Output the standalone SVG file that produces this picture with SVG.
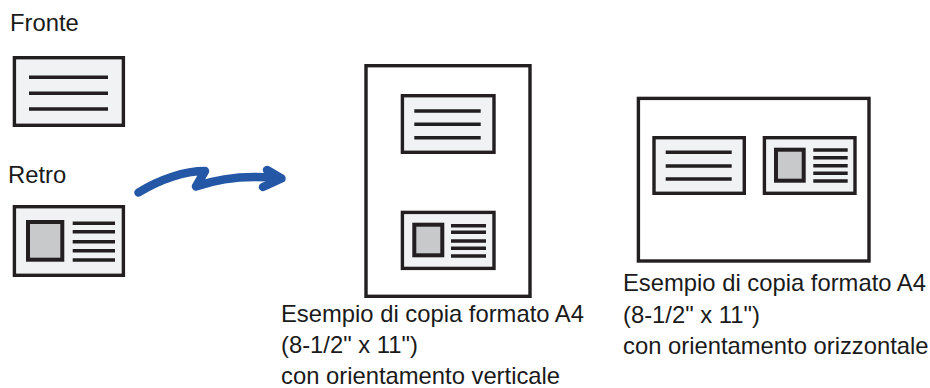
<svg xmlns="http://www.w3.org/2000/svg" width="930" height="388" viewBox="0 0 930 388">
<style>
.card{fill:#f1f2f4;stroke:#231f20;stroke-width:3.4}
.page{fill:#ffffff;stroke:#231f20;stroke-width:3.4}
.photo{fill:#c8c9cb;stroke:#231f20;stroke-width:4}
.ln{stroke:#231f20;stroke-width:3.6;fill:none}
.txt{font-family:"Liberation Sans",Arial,sans-serif;font-size:23.8px;fill:#1a1a1a}
.arrow{fill:none;stroke:#2557a7;stroke-width:8.5;stroke-linecap:round;stroke-linejoin:round}
</style>
<rect width="930" height="388" fill="#ffffff"/>
<g id="label-fronte"><text class="txt" x="10" y="30.7">Fronte</text></g>
<g id="card-fronte">
<rect class="card" x="14.4" y="57.7" width="109" height="67.6"/>
<path class="ln" d="M29,77.3H108M29,93.3H108M29,109H108"/>
</g>
<g id="label-retro"><text class="txt" x="8" y="182.5">Retro</text></g>
<g id="card-retro">
<rect class="card" x="14.4" y="206.7" width="109" height="68.6"/>
<rect class="photo" x="28" y="222" width="34.3" height="37.7"/>
<path class="ln" d="M72.7,223.3H115M72.7,231.7H115M72.7,241.7H115M72.7,250.7H115M72.7,260H115"/>
</g>
<g id="connectors">
<path class="arrow" d="M138.5,192.5C160,179 185,171 205,171L196,186.5C218,179 248,175 279,178.5"/>
<path class="arrow" d="M267,170L281.5,178.5L263,187"/>
</g>
<g id="page-vertical">
<rect class="page" x="366" y="65.7" width="164" height="230.6"/>
<rect class="card" x="402.4" y="95.7" width="91.6" height="56.6"/>
<path class="ln" d="M414.3,111H480.7M414.3,124.3H480.7M414.3,137.7H480.7"/>
<rect class="card" x="402.4" y="212.4" width="91.6" height="56"/>
<rect class="photo" x="414.3" y="224.7" width="28" height="30.6"/>
<path class="ln" d="M451,225.7H486M451,232.3H486M451,241H486M451,248.3H486M451,256H486"/>
</g>
<g id="caption-vertical">
<text class="txt" x="281" y="322">Esempio di copia formato A4</text>
<text class="txt" x="281" y="353">(8-1/2" x 11")</text>
<text class="txt" x="281" y="384">con orientamento verticale</text>
</g>
<g id="page-horizontal">
<rect class="page" x="638.4" y="98.4" width="230.6" height="162.6"/>
<rect class="card" x="654" y="137.7" width="90.3" height="55.6"/>
<path class="ln" d="M665.7,152.3H731.7M665.7,166H731.7M665.7,179H731.7"/>
<rect class="card" x="764.4" y="137.7" width="90.6" height="55.6"/>
<rect class="photo" x="776" y="149.7" width="27.7" height="31"/>
<path class="ln" d="M813.3,150H847.7M813.3,157.7H847.7M813.3,165.7H847.7M813.3,173.3H847.7M813.3,181H847.7"/>
</g>
<g id="caption-horizontal">
<text class="txt" x="623" y="291">Esempio di copia formato A4</text>
<text class="txt" x="623" y="322.5">(8-1/2" x 11")</text>
<text class="txt" x="623" y="354">con orientamento orizzontale</text>
</g>
</svg>
